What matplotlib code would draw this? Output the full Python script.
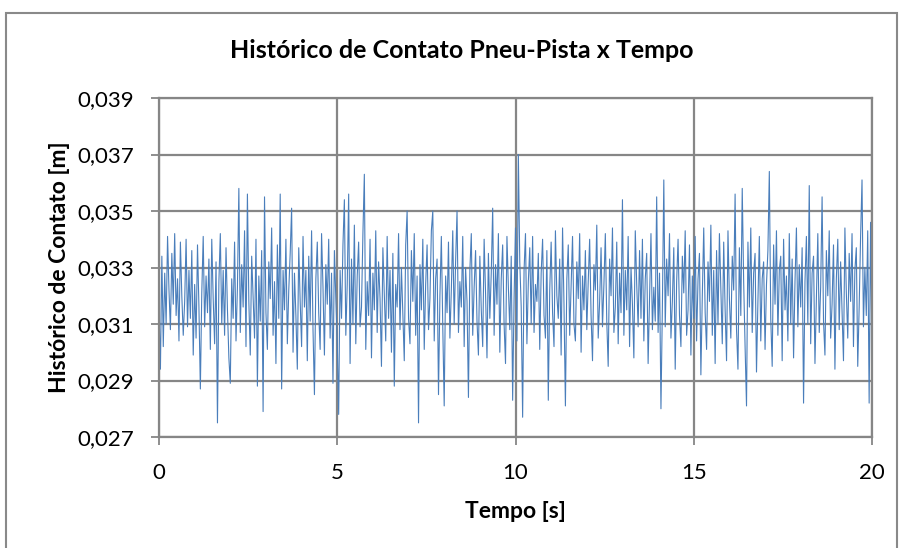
import numpy as np
import matplotlib.pyplot as plt
from matplotlib.patches import Rectangle
from matplotlib.ticker import FuncFormatter

plt.rcParams['font.family'] = ['Lato', 'DejaVu Sans']

# tire-road contact history [mm], sampled every 0.04 s from 0 to 20 s
contato_mm = [
    31.5, 29.4, 33.4, 30.2, 32.8, 31.0, 34.1, 32.2, 30.8, 33.5, 31.7, 34.2, 31.3, 32.6, 30.4, 33.9, 32.0, 30.6, 31.8, 34.0, 30.9, 32.9, 31.2, 33.6, 29.9,
    32.4, 30.5, 33.8, 31.6, 28.7, 32.1, 34.1, 30.9, 32.7, 31.4, 33.3, 30.1, 34.0, 31.9, 30.3, 33.2, 27.5, 32.5, 34.2, 31.0, 32.9, 30.6, 33.7, 31.5, 29.8,
    28.9, 32.6, 31.2, 33.9, 30.4, 32.3, 35.8, 30.7, 33.1, 31.6, 34.3, 30.2, 35.6, 31.8, 29.9, 33.4, 32.0, 30.5, 34.0, 28.8, 32.7, 31.1, 33.6, 27.9, 35.5,
    31.4, 30.1, 33.2, 31.9, 34.4, 30.6, 32.5, 29.6, 33.8, 31.2, 35.6, 28.7, 32.9, 31.5, 34.0, 30.3, 32.2, 33.5, 35.1, 30.0, 32.8, 31.3, 29.4, 33.7, 31.8,
    30.2, 34.1, 31.6, 32.9, 29.7, 33.4, 31.1, 34.3, 30.8, 28.5, 32.6, 33.9, 31.4, 30.1, 34.2, 32.3, 29.9, 33.1, 31.7, 34.0, 30.5, 32.8, 28.9, 33.6, 31.9,
    30.4, 27.8, 32.9, 31.2, 33.8, 35.4, 30.6, 32.4, 35.6, 29.6, 33.3, 31.0, 34.5, 30.3, 32.7, 33.9, 30.9, 31.6, 34.2, 36.3, 30.1, 32.5, 31.3, 34.0, 29.8,
    32.8, 31.5, 34.3, 30.7, 33.2, 31.9, 29.5, 33.7, 32.1, 30.4, 34.1, 31.2, 32.9, 30.0, 33.5, 28.8, 32.4, 31.6, 34.2, 30.8, 33.0, 31.4, 29.7, 33.8, 35.0,
    31.2, 30.3, 33.6, 31.8, 34.2, 30.6, 32.7, 27.5, 33.1, 31.5, 34.0, 30.1, 32.4, 33.8, 30.8, 31.9, 34.3, 35.0, 30.4, 32.6, 33.3, 28.5, 32.0, 34.1, 30.9,
    28.1, 32.7, 31.4, 33.9, 30.5, 32.2, 34.3, 31.0, 33.2, 35.0, 30.7, 32.5, 31.6, 34.1, 30.2, 33.0, 31.8, 28.4, 32.9, 34.2, 30.6, 32.3, 33.6, 31.1, 29.9,
    33.4, 31.5, 30.2, 34.0, 32.1, 29.8, 33.5, 31.2, 32.8, 35.1, 30.6, 33.1, 31.7, 34.2, 30.0, 32.6, 33.8, 31.0, 29.6, 34.1, 32.3, 30.8, 33.4, 28.3, 31.9,
    34.4, 30.4, 37.0, 33.2, 31.6, 27.7, 32.9, 34.2, 30.3, 32.5, 33.7, 31.0, 34.1, 30.7, 32.4, 31.8, 33.5, 30.1, 32.8, 34.0, 31.3, 30.5, 33.6, 28.3, 32.2,
    33.9, 31.4, 30.2, 34.3, 32.0, 31.2, 33.3, 29.9, 34.4, 31.7, 28.1, 32.6, 33.8, 30.6, 32.3, 34.1, 31.0, 30.4, 33.2, 31.9, 34.2, 30.0, 32.7, 31.5, 33.6,
    30.8, 32.5, 34.0, 31.3, 29.7, 33.1, 32.2, 34.5, 30.5, 31.8, 33.7, 30.9, 32.4, 34.2, 31.1, 29.5, 33.3, 32.0, 34.4, 30.7, 31.6, 33.9, 30.3, 32.8, 31.4,
    35.4, 30.6, 32.9, 31.5, 34.1, 30.2, 33.0, 31.7, 29.8, 34.3, 32.4, 30.9, 33.6, 31.2, 34.0, 30.4, 32.6, 33.5, 29.6, 31.9, 34.2, 30.8, 32.3, 31.1, 35.5,
    30.7, 32.8, 28.0, 31.6, 36.1, 30.9, 33.3, 32.0, 34.2, 30.5, 31.8, 33.7, 29.4, 32.5, 34.0, 31.3, 30.2, 33.4, 32.1, 34.3, 30.6, 31.5, 33.8, 29.9, 32.7,
    31.2, 34.1, 30.4, 32.6, 33.5, 29.2, 32.0, 34.4, 31.4, 30.1, 33.2, 31.8, 34.5, 30.6, 32.9, 29.6, 33.6, 31.0, 34.2, 32.3, 30.3, 33.9, 31.5, 29.7, 34.3,
    31.9, 30.5, 33.4, 32.2, 35.6, 30.8, 29.4, 33.7, 31.3, 35.8, 32.5, 30.2, 28.1, 33.9, 31.6, 34.4, 30.7, 32.8, 33.5, 29.3, 31.8, 34.1, 30.4, 32.6, 33.2,
    30.1, 32.4, 33.6, 36.4, 31.2, 29.5, 33.8, 31.7, 34.3, 30.6, 32.9, 33.4, 29.7, 34.0, 31.5, 32.7, 30.4, 34.2, 31.0, 33.3, 29.8, 32.5, 34.4, 30.9, 33.1,
    31.6, 33.7, 28.2, 32.5, 34.1, 31.0, 35.9, 30.3, 32.8, 33.4, 29.6, 31.9, 34.2, 30.7, 32.3, 35.5, 31.1, 29.9, 33.6, 32.0, 34.3, 30.5, 31.7, 33.8, 29.4,
    32.6, 34.0, 30.8, 33.2, 31.4, 29.7, 34.4, 32.1, 30.5, 33.5, 31.8, 34.2, 30.2, 32.9, 33.7, 29.5, 31.6, 34.1, 36.1, 30.9, 33.0, 31.3, 34.3, 28.2, 34.6,
    29.9,
]
t_inicio, t_fim = 0.0, 20.0
y_ticks = [0.027, 0.029, 0.031, 0.033, 0.035, 0.037, 0.039]
x_ticks = [0, 5, 10, 15, 20]

contato = np.array(contato_mm) / 1000.0
tempo = np.linspace(t_inicio, t_fim, len(contato))

grid_color = '#868686'
W, H = 900, 548
fig = plt.figure(figsize=(9, 5.48), dpi=100)
ax = fig.add_axes([159 / W, 1 - 437 / H, (872 - 159) / W, (437 - 98) / H])

ax.plot(tempo, contato, color='#4A7EBB', linewidth=0.8)

ax.set_xlim(0, 20)
ax.set_ylim(0.027, 0.039)
ax.set_xticks(x_ticks)
ax.set_yticks(y_ticks)
ax.yaxis.set_major_formatter(FuncFormatter(lambda v, p: f'{v:.3f}'.replace('.', ',')))
ax.grid(True, color=grid_color, linewidth=1.6)
for s in ax.spines.values():
    s.set_color(grid_color)
    s.set_linewidth(1.6)
ax.tick_params(axis='both', colors=grid_color, length=6, width=1.3, labelsize=16,
               labelcolor='black')
ax.tick_params(axis='y', pad=12)
ax.tick_params(axis='x', pad=13)

ax.set_xlabel('Tempo [s]', fontsize=16.5, fontweight='bold', labelpad=13)
ax.set_ylabel('Histórico de Contato [m]', fontsize=16.5, fontweight='bold', labelpad=5)
fig.text(462 / W, 1 - 51 / H, 'Histórico de Contato Pneu-Pista x Tempo',
         fontsize=18, fontweight='bold', ha='center', va='center')

# chart area border
fig.patches.append(Rectangle((6 / W, -0.1), (897 - 6) / W, 1 - 13 / H + 0.1,
                             transform=fig.transFigure, fill=False,
                             edgecolor='#898989', linewidth=1.5))

fig.savefig('out.png', dpi=100)
